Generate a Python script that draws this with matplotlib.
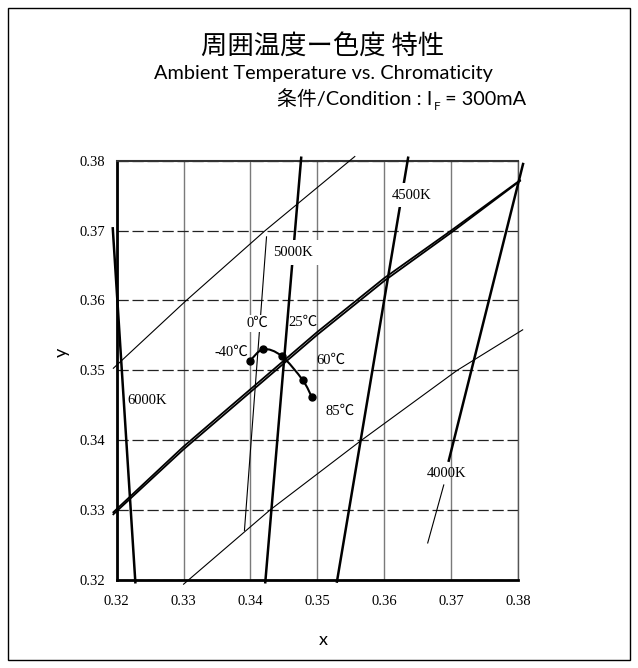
import matplotlib
matplotlib.use("Agg")
import matplotlib.pyplot as plt
from matplotlib.path import Path
from matplotlib.patches import PathPatch, Rectangle
import numpy as np

# ---------------- data ----------------
# Planckian locus (drawn as a double line)
locus_x = [0.3195, 0.3300, 0.3400, 0.3450, 0.3500, 0.3600, 0.3700, 0.3803]
locus_a_y = [0.3297, 0.3391, 0.3473, 0.3514, 0.3555, 0.3632, 0.3700, 0.3772]
locus_b_y = [0.3294, 0.3387, 0.3469, 0.3510, 0.3551, 0.3628, 0.3697, 0.3771]

# isotemperature lines (thick)
iso_6000_x = [0.3194, 0.3228]
iso_6000_y = [0.3705, 0.3195]
iso_5000_x = [0.3476, 0.3422]
iso_5000_y = [0.3806, 0.3195]
iso_4500_x = [0.3636, 0.3529]
iso_4500_y = [0.3806, 0.3196]
iso_4000_x = [0.3696, 0.3808]
iso_4000_y = [0.3369, 0.3797]
iso_4000_low_x = [0.3665, 0.3689]
iso_4000_low_y = [0.3253, 0.3336]

# bin boundary lines (thin)
bin_upper_x = [0.3195, 0.3304, 0.3422, 0.3556]
bin_upper_y = [0.3503, 0.3600, 0.3700, 0.3806]
bin_lower_x = [0.3300, 0.3429, 0.3566, 0.3709, 0.3807]
bin_lower_y = [0.3194, 0.3300, 0.3400, 0.3500, 0.3558]
bin_side_x = [0.3424, 0.3391]
bin_side_y = [0.3691, 0.3271]

# measured chromaticity vs ambient temperature
temp_labels = ['-40℃', '0℃', '25℃', '60℃', '85℃']
chrom_x = [0.33991, 0.34192, 0.34465, 0.34779, 0.34918]
chrom_y = [0.35134, 0.35302, 0.35206, 0.34863, 0.34615]

cct_labels = ['6000K', '5000K', '4500K', '4000K']

ticks = [0.32, 0.33, 0.34, 0.35, 0.36, 0.37, 0.38]
tick_labels = ['0.32', '0.33', '0.34', '0.35', '0.36', '0.37', '0.38']

# ---------------- figure ----------------
W, H = 638, 668
fig = plt.figure(figsize=(W / 100, H / 100), dpi=100)
ax = fig.add_axes([116.7 / W, 1 - 580 / H, (518 - 116.7) / W, (580 - 160.7) / H])
ax.set_xlim(0.32, 0.38)
ax.set_ylim(0.32, 0.38)

serif = ['Liberation Serif', 'Noto Sans CJK JP']
FS = 10.5

ax.set_xticks(ticks)
ax.set_xticklabels(tick_labels, family='Liberation Serif', fontsize=FS)
ax.set_yticks(ticks)
ax.set_yticklabels(tick_labels, family='Liberation Serif', fontsize=FS)
ax.tick_params(axis='x', length=0, pad=11)
ax.tick_params(axis='y', length=0, pad=8.5)

ax.xaxis.grid(True, color='#7a7a7a', lw=1.0, ls='-')
ax.yaxis.grid(True, color='#222222', lw=0.9, ls=(0, (9, 3)))
ax.set_axisbelow(True)

ax.spines['left'].set_linewidth(2.0)
ax.spines['bottom'].set_linewidth(2.0)
ax.spines['top'].set_linewidth(1.5)
ax.spines['top'].set_color('#333333')
ax.spines['right'].set_linewidth(1.0)
ax.spines['right'].set_color('#555555')

kw_thick = dict(color='black', lw=1.8, clip_on=False, solid_capstyle='butt', zorder=3)
kw_thin = dict(color='black', lw=0.8, clip_on=False, zorder=3)

# locus double line
ax.plot(locus_x, locus_a_y, color='black', lw=1.3, clip_on=False, zorder=3)
ax.plot(locus_x, locus_b_y, color='black', lw=1.3, clip_on=False, zorder=3)

ax.plot(iso_6000_x, iso_6000_y, **kw_thick)
ax.plot(iso_5000_x, iso_5000_y, **kw_thick)
ax.plot(iso_4500_x, iso_4500_y, **kw_thick)
ax.plot(iso_4000_x, iso_4000_y, **kw_thick)
ax.plot(iso_4000_low_x, iso_4000_low_y, **kw_thin)

ax.plot(bin_upper_x, bin_upper_y, **kw_thin)
ax.plot(bin_lower_x, bin_lower_y, **kw_thin)
ax.plot(bin_side_x, bin_side_y, **kw_thin)

# smooth curve through measured points (Catmull-Rom -> cubic Bezier)
pts = np.column_stack([chrom_x, chrom_y])
verts = [tuple(pts[0])]
codes = [Path.MOVETO]
n = len(pts)
for i in range(n - 1):
    p0 = pts[max(i - 1, 0)]
    p1 = pts[i]
    p2 = pts[i + 1]
    p3 = pts[min(i + 2, n - 1)]
    c1 = p1 + (p2 - p0) / 6.0
    c2 = p2 - (p3 - p1) / 6.0
    verts += [tuple(c1), tuple(c2), tuple(p2)]
    codes += [Path.CURVE4] * 3
ax.add_patch(PathPatch(Path(verts, codes), fc='none', ec='black', lw=1.5, zorder=4))
ax.plot(chrom_x, chrom_y, 'o', color='black', ms=5, zorder=5)

# temperature labels
temp_pos = [(0.33722, 0.35263), (0.34100, 0.35673), (0.34784, 0.35683),
            (0.35200, 0.35139), (0.35338, 0.34409)]
for lab, (tx, ty) in zip(temp_labels, temp_pos):
    bb = None
    if lab == '0℃':
        bb = dict(boxstyle='square,pad=0.15', fc='white', ec='none')
    ax.text(tx, ty, lab, family=serif, fontsize=FS, ha='center', va='center',
            zorder=6, bbox=bb)

# CCT labels
cct_pos = [(0.32449, 0.34562), (0.34635, 0.36684), (0.36410, 0.37509), (0.36934, 0.33518)]
for lab, (tx, ty) in zip(cct_labels, cct_pos):
    bb = None
    if lab in ('5000K', '4500K'):
        bb = dict(boxstyle='square,pad=0.4', fc='white', ec='none')
    ax.text(tx, ty, lab, family=serif, fontsize=FS, ha='center', va='center',
            zorder=6, bbox=bb)

# axis labels
fig.text(323 / W, 1 - 640 / H, 'x', family='Lato', fontsize=13, ha='center', va='center')
fig.text(62 / W, 1 - 352 / H, 'y', family='Lato', fontsize=13, ha='center', va='center',
         rotation=90)

# titles
fig.text(323 / W, 1 - 46 / H, '周囲温度ー色度 特性', family=['Noto Sans CJK JP'],
         fontsize=19, ha='center', va='center')
fig.text(323 / W, 1 - 74 / H, 'Ambient Temperature vs. Chromaticity', family=['Lato'],
         fontsize=14.3, ha='center', va='center')
t1 = fig.text(277 / W, 1 - 105 / H, '条件/Condition : I', family=['Lato', 'Noto Sans CJK JP'],
              fontsize=14.3, ha='left', va='baseline')
a2 = ax.annotate('F', xy=(1, 0), xycoords=t1, xytext=(1, -3), textcoords='offset points',
                 family='Lato', fontsize=8.5, ha='left', va='bottom', annotation_clip=False)
ax.annotate(' = 300mA', xy=(1, 0), xycoords=a2, xytext=(0, 3), textcoords='offset points',
            family='Lato', fontsize=14.3, ha='left', va='bottom', annotation_clip=False)

# outer frame
fig.patches.append(Rectangle((8 / W, 8 / H), 622 / W, 652 / H, transform=fig.transFigure,
                             fill=False, ec='black', lw=1.0))

fig.savefig('out.png', dpi=100)
